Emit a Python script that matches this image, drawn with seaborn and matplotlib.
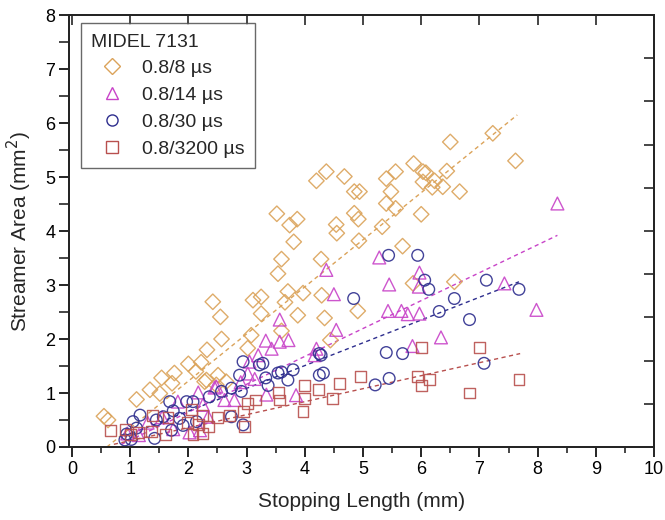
import matplotlib
matplotlib.use("Agg")
import matplotlib.pyplot as plt
import seaborn as sns
from matplotlib.lines import Line2D
from matplotlib.ticker import MultipleLocator

# --- data (stopping length mm, streamer area mm^2) ---
d8_x = [0.55, 0.62, 1.11, 1.34, 1.51, 1.54, 1.72, 1.76, 2.00, 2.13, 2.22, 2.32, 2.28, 2.51,
        2.57, 2.55, 2.42, 3.08, 3.11, 3.25, 3.25, 3.54, 3.60, 3.71, 3.66, 3.88, 3.97, 3.52,
        3.74, 3.87, 3.81, 4.28, 4.29, 4.34, 4.44, 4.54, 4.55, 4.20, 4.37, 4.68, 4.85, 4.94,
        4.85, 4.92, 4.93, 4.91, 5.33, 5.40, 5.56, 5.48, 5.40, 5.56, 5.68, 5.87, 5.86, 6.00,
        6.03, 6.08, 6.03, 6.23, 6.19, 6.37, 6.44, 6.50, 6.66, 6.57, 7.23, 7.62, 3.02, 3.60,
        2.48, 2.65, 2.31]
d8_y = [0.57, 0.50, 0.88, 1.06, 0.99, 1.28, 1.18, 1.37, 1.54, 1.40, 1.57, 1.80, 1.21, 1.33,
        2.00, 2.41, 2.69, 2.07, 2.72, 2.78, 2.47, 3.21, 3.48, 2.88, 2.68, 2.44, 2.85, 4.32,
        4.11, 4.22, 3.80, 3.48, 2.81, 2.39, 1.98, 4.12, 3.96, 4.93, 5.10, 5.01, 4.73, 4.73,
        4.33, 4.22, 3.82, 2.52, 4.08, 4.97, 5.10, 4.73, 4.51, 4.42, 3.72, 5.25, 3.03, 4.31,
        5.10, 5.08, 4.91, 4.93, 4.81, 4.82, 5.11, 5.65, 4.73, 3.06, 5.81, 5.30, 1.83, 2.15,
        1.15, 1.21, 1.24]

d14_x = [0.95, 1.15, 1.30, 1.55, 1.74, 1.82, 2.02, 2.20, 2.17, 2.25, 2.34, 2.45, 2.62, 2.79,
         3.02, 3.14, 3.05, 3.20, 3.34, 3.33, 3.43, 3.57, 3.72, 3.57, 3.85, 4.17, 4.20, 4.37,
         4.50, 4.54, 5.28, 5.45, 5.43, 5.66, 5.77, 5.97, 5.97, 5.96, 5.85, 6.34, 7.43, 7.98,
         8.34, 2.90, 2.48]
d14_y = [0.25, 0.22, 0.45, 0.55, 0.33, 0.84, 0.27, 0.31, 1.01, 0.78, 0.56, 1.10, 0.87, 0.87,
         1.36, 1.26, 1.58, 1.70, 0.97, 1.97, 1.82, 1.95, 1.98, 2.36, 0.96, 1.70, 1.82, 3.28,
         2.83, 2.17, 3.51, 3.01, 2.52, 2.52, 2.46, 2.47, 3.23, 2.97, 1.87, 2.03, 3.03, 2.54,
         4.51, 1.20, 1.12]

d30_x = [0.91, 0.94, 1.02, 1.05, 1.11, 1.17, 1.42, 1.45, 1.57, 1.68, 1.71, 1.74, 1.85, 1.91,
         1.97, 2.08, 2.14, 2.36, 2.57, 2.74, 2.74, 2.88, 2.91, 2.94, 2.94, 3.22, 3.28, 3.33,
         3.37, 3.54, 3.60, 3.71, 3.80, 4.25, 4.28, 4.25, 4.32, 4.84, 5.21, 5.44, 5.45, 5.40,
         5.68, 5.94, 6.06, 6.13, 6.31, 6.57, 6.83, 7.08, 7.12, 7.68]
d30_y = [0.13, 0.24, 0.14, 0.47, 0.35, 0.59, 0.16, 0.50, 0.56, 0.84, 0.31, 0.67, 0.53, 0.40,
         0.84, 0.84, 0.47, 0.93, 1.03, 1.09, 0.56, 1.33, 1.03, 1.58, 0.41, 1.52, 1.55, 1.28,
         1.14, 1.37, 1.39, 1.24, 1.43, 1.73, 1.70, 1.33, 1.37, 2.75, 1.15, 3.55, 1.27, 1.75,
         1.73, 3.55, 3.09, 2.92, 2.51, 2.75, 2.36, 1.55, 3.09, 2.92]

d3200_x = [0.66, 0.92, 1.00, 1.14, 1.37, 1.38, 1.60, 1.65, 1.98, 2.06, 2.08, 2.25, 2.18, 2.34,
           2.25, 2.50, 2.71, 2.94, 2.97, 3.01, 3.15, 3.55, 3.56, 4.00, 4.00, 3.97, 4.24, 4.47,
           4.59, 4.95, 5.94, 6.00, 6.14, 6.00, 7.00, 6.83, 7.68]
d3200_y = [0.30, 0.32, 0.24, 0.26, 0.28, 0.59, 0.23, 0.54, 0.45, 0.70, 0.23, 0.25, 0.41, 0.38,
           0.59, 0.54, 0.58, 0.66, 0.38, 0.81, 0.87, 1.01, 0.87, 1.14, 0.90, 0.66, 1.07, 0.90,
           1.17, 1.31, 1.31, 1.14, 1.25, 1.85, 1.85, 1.00, 1.25]

# linear fit lines, end points
fit8_x, fit8_y = [0.60, 7.65], [0.00, 6.15]
fit14_x, fit14_y = [0.85, 8.34], [0.05, 3.92]
fit30_x, fit30_y = [0.90, 7.68], [0.20, 3.06]
fit3200_x, fit3200_y = [0.72, 7.70], [0.05, 1.73]

labels = ["0.8/8 \u00b5s", "0.8/14 \u00b5s", "0.8/30 \u00b5s", "0.8/3200 \u00b5s"]
colors = ["#DBA35A", "#C843C8", "#2E2E8E", "#B8504E"]
markers = ["D", "^", "o", "s"]
sizes = [62, 85, 70, 62]

sns.set_style("ticks")
plt.rcParams["font.family"] = ["Liberation Sans", "DejaVu Sans"]

fig = plt.figure(figsize=(6.65, 5.2), dpi=100)
ax = fig.add_axes([0.1038, 0.1404, 0.8797, 0.8306])

series = [(d8_x, d8_y, fit8_x, fit8_y), (d14_x, d14_y, fit14_x, fit14_y),
          (d30_x, d30_y, fit30_x, fit30_y), (d3200_x, d3200_y, fit3200_x, fit3200_y)]

for (sx, sy, fx, fy), c, m, s in zip(series, colors, markers, sizes):
    sns.scatterplot(x=sx, y=sy, ax=ax, marker=m, s=s, facecolor="none",
                    edgecolor=c, linewidth=1.0, alpha=0.9, legend=False, zorder=3)
    ax.plot(fx, fy, color=c, linestyle=(0, (3, 2.5)), linewidth=1.0, zorder=2)

ax.set_xlim(-0.05, 10)
ax.set_ylim(0, 8)
ax.xaxis.set_major_locator(MultipleLocator(1))
ax.xaxis.set_minor_locator(MultipleLocator(0.5))
ax.yaxis.set_major_locator(MultipleLocator(1))
ax.yaxis.set_minor_locator(MultipleLocator(0.5))
ax.tick_params(axis="both", which="major", direction="out", length=7, width=1.2,
               labelsize=13, colors="black", pad=3)
ax.tick_params(axis="x", which="minor", direction="out", length=4, width=1.2)
ax.tick_params(axis="y", which="minor", direction="out", length=7, width=1.2)

for sp in ax.spines.values():
    sp.set_visible(True)
    sp.set_linewidth(1.3)
    sp.set_color("black")

# mirrored frame ticks on top and right, pointing inward
axt = ax.twiny()
axt.set_xlim(ax.get_xlim())
axt.xaxis.set_major_locator(MultipleLocator(1))
axt.tick_params(axis="x", direction="in", length=7, width=1.2, labeltop=False)
axr = ax.twinx()
axr.set_ylim(0, 10)
axr.yaxis.set_major_locator(MultipleLocator(1))
axr.tick_params(axis="y", direction="in", length=7, width=1.2, labelright=False)
for a in (axt, axr):
    for sp in a.spines.values():
        sp.set_linewidth(1.3)

ax.set_xlabel("Stopping Length (mm)", fontsize=15, labelpad=10)
ax.set_ylabel("Streamer Area (mm$^2$)", fontsize=15, labelpad=8)

handles = [Line2D([], [], linestyle="none", marker=m, markersize=8 if m != "^" else 9,
                  markerfacecolor="none", markeredgecolor=c, markeredgewidth=1.0)
           for m, c in zip(markers, colors)]
leg = axr.legend(handles, labels, title="MIDEL 7131", loc="upper left",
                 bbox_to_anchor=(0.02, 0.982), borderaxespad=0, fontsize=14,
                 title_fontsize=14, frameon=True, fancybox=False, handlelength=2.15,
                 handletextpad=0.45, labelspacing=0.47, borderpad=0.55, alignment="left")
leg.get_frame().set_edgecolor("#444444")
leg.get_frame().set_linewidth(1.0)

fig.savefig("out.png", dpi=100)
